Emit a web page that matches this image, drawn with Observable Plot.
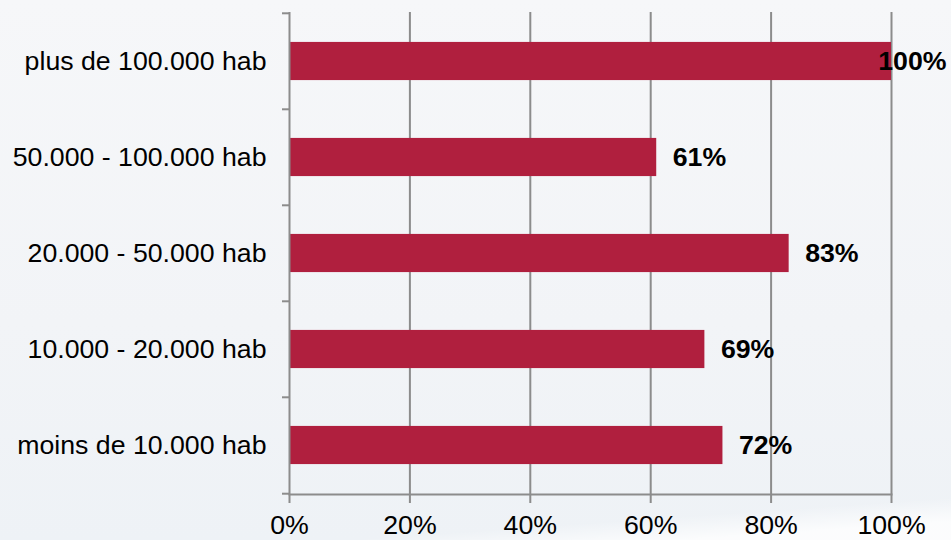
<!DOCTYPE html>
<html>
<head>
<meta charset="utf-8">
<script src="https://cdn.jsdelivr.net/npm/d3@7"></script>
<script src="https://cdn.jsdelivr.net/npm/@observablehq/plot@0.6"></script>
<style>
html, body { margin: 0; padding: 0; }
body {
  width: 951px; height: 540px; overflow: hidden;
  background: linear-gradient(180deg, #f6f7f9 0%, #f2f4f7 60%, #eef2f6 100%);
  font-family: "Liberation Sans", Arial, sans-serif;
  position: relative;
}
#wedge {
  position: absolute; left: 0; top: 0; width: 951px; height: 540px;
  background: linear-gradient(176deg, rgba(255,255,255,0) 93%, rgba(255,255,255,0.8) 97%);
  pointer-events: none;
}
#chart { position: absolute; left: 0; top: 0; }
</style>
</head>
<body>
<div id="wedge"></div>
<div id="chart"></div>
<script>
const categories = [
  "plus de 100.000 hab",
  "50.000 - 100.000 hab",
  "20.000 - 50.000 hab",
  "10.000 - 20.000 hab",
  "moins de 10.000 hab"
];
const values = [100, 61, 83, 69, 72];
const xTicks = [0, 20, 40, 60, 80, 100];

const data = categories.map((c, i) => ({category: c, value: values[i]}));

const W = 951, H = 540;
const mTop = 12, mBottom = 46, mLeft = 289, mRight = 60;
const step = (H - mTop - mBottom) / categories.length;
const gray = "#8c8c8c";
const barColor = "#b01f3e";
const fs = 26.7;

const chart = Plot.plot({
  width: W,
  height: H,
  marginTop: mTop,
  marginBottom: mBottom,
  marginLeft: mLeft,
  marginRight: mRight,
  style: {background: "transparent", fontFamily: "'Liberation Sans', Arial, sans-serif", fontSize: fs + "px", color: "#000"},
  x: {domain: [0, 100], ticks: xTicks},
  y: {domain: categories, padding: 0},
  marks: [
    Plot.gridX(xTicks.filter(t => t > 0), {stroke: gray, strokeOpacity: 1, strokeWidth: 2}),
    Plot.barX(data, {x: "value", y: "category", fill: barColor, insetTop: step * 0.3, insetBottom: step * 0.3}),
    Plot.ruleX([0], {stroke: gray, strokeWidth: 2}),
    Plot.frame({anchor: "bottom", stroke: gray, strokeWidth: 2}),
    Plot.axisX(xTicks, {tickSize: 9, tickPadding: 12, stroke: gray, strokeWidth: 2, tickFormat: d => d + "%", fontSize: fs, fill: "#000", label: null}),
    Plot.axisY(categories, {tickSize: 7, dy: -step / 2, stroke: gray, strokeWidth: 2, tickFormat: () => "", label: null}),
    Plot.axisY([categories[categories.length - 1]], {tickSize: 7, dy: step / 2, stroke: gray, strokeWidth: 2, tickFormat: () => "", label: null}),
    Plot.axisY(categories, {tickSize: 0, tickPadding: 23, fontSize: fs, fill: "#000", label: null}),
    Plot.text(data.filter(d => d.value < 100), {x: "value", y: "category", text: d => d.value + "%", textAnchor: "start", dx: 16, fontWeight: "bold", fontSize: fs, fill: "#000"}),
    Plot.text(data.filter(d => d.value >= 100), {x: "value", y: "category", text: d => d.value + "%", textAnchor: "end", dx: 55, fontWeight: "bold", fontSize: fs, fill: "#000"})
  ]
});
document.getElementById("chart").appendChild(chart);
</script>
</body>
</html>
